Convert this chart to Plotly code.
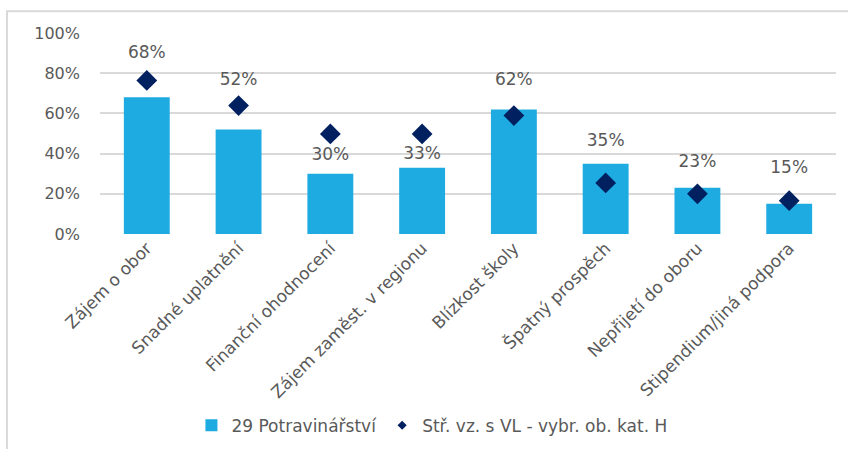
import plotly.graph_objects as go

categories = ["Zájem o obor", "Snadné uplatnění", "Finanční ohodnocení",
              "Zájem zaměst. v regionu", "Blízkost školy", "Špatný prospěch",
              "Nepřijetí do oboru", "Stipendium/jiná podpora"]
bar_values = [68, 52, 30, 33, 62, 35, 23, 15]
avg_values = [76.4, 63.9, 49.8, 49.8, 58.9, 25.4, 20.0, 16.6]
label_y = [89.8, 76.2, 39.0, 39.6, 76.3, 46.1, 35.6, 32.3]
bar_name = "29 Potravinářství"
avg_name = "Stř. vz. s VL - vybr. ob. kat. H"
y_ticks = [0, 20, 40, 60, 80, 100]
y_tick_labels = ["0%", "20%", "40%", "60%", "80%", "100%"]

BAR_COLOR = "#1EABE2"
DIAMOND_COLOR = "#002060"
TEXT_COLOR = "#595959"
GRID_COLOR = "#D9D9D9"
FONT = "DejaVu Sans"

fig = go.Figure()
fig.add_trace(go.Bar(
    x=categories, y=bar_values, name=bar_name,
    marker=dict(color=BAR_COLOR, line=dict(width=0)),
    hoverinfo="skip",
))
fig.add_trace(go.Scatter(
    x=categories, y=avg_values, mode="markers", showlegend=False,
    marker=dict(symbol="diamond", size=16, color=DIAMOND_COLOR),
    hoverinfo="skip",
))
# legend entry for the diamond series (small symbol as in reference)
fig.add_trace(go.Scatter(
    x=[None], y=[None], mode="markers", name=avg_name,
    marker=dict(symbol="diamond", size=7, color=DIAMOND_COLOR),
))
fig.add_trace(go.Scatter(
    x=categories, y=label_y, mode="text", showlegend=False,
    text=[f"{v}%" for v in bar_values], textposition="middle center",
    textfont=dict(family=FONT, size=17, color=TEXT_COLOR),
    hoverinfo="skip",
))

fig.update_layout(
    width=848, height=449,
    margin=dict(l=100, r=12, t=33, b=215, autoexpand=False),
    paper_bgcolor="white", plot_bgcolor="white",
    bargap=0.5,
    font=dict(family=FONT, color=TEXT_COLOR),
    showlegend=True,
    legend=dict(orientation="h", x=0.451, xanchor="center", y=-0.954, yanchor="middle",
                font=dict(family=FONT, size=17, color=TEXT_COLOR),
                itemsizing="trace", traceorder="normal", bgcolor="rgba(0,0,0,0)"),
    xaxis=dict(showgrid=False, showline=False, zeroline=False, ticks="",
               tickangle=-45, tickfont=dict(family=FONT, size=17, color=TEXT_COLOR)),
    yaxis=dict(range=[0, 100], tickmode="array", tickvals=y_ticks, ticktext=y_tick_labels,
               showgrid=True, gridcolor=GRID_COLOR, gridwidth=2, zeroline=False,
               showline=False, ticks="", ticklabelstandoff=19,
               tickfont=dict(family=FONT, size=16, color=TEXT_COLOR)),
    shapes=[dict(type="rect", xref="paper", yref="paper",
                 x0=-0.1264, x1=1.05, y0=-1.2, y1=1.108,
                 line=dict(color=GRID_COLOR, width=2), fillcolor="rgba(0,0,0,0)",
                 layer="above")],
)

fig.write_html("out.html", config={"displayModeBar": False},
               post_script="document.body.style.margin='0';document.body.style.overflow='hidden';")
